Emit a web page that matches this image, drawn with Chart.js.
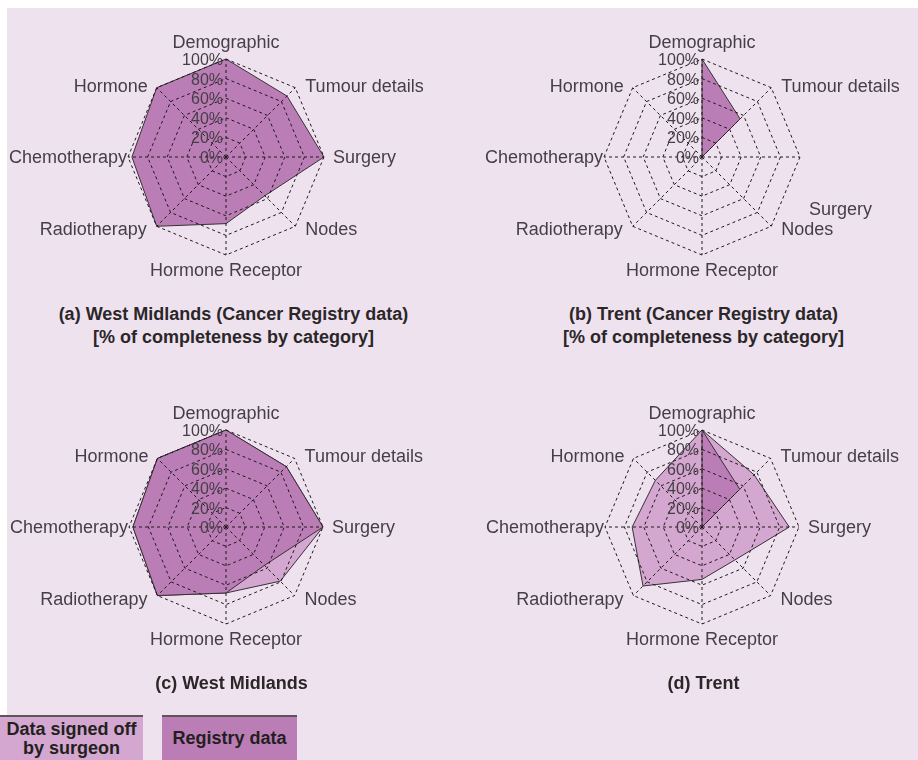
<!DOCTYPE html>
<html>
<head>
<meta charset="utf-8">
<script src="https://cdn.jsdelivr.net/npm/chart.js@4.4.1/dist/chart.umd.min.js"></script>
<style>
  body { margin: 0; background: #fff; }
  #page { position: relative; width: 918px; height: 760px; overflow: hidden; font-family: "Liberation Sans", Arial, sans-serif; }
  #panel { position: absolute; left: 7px; top: 8px; right: 0; bottom: 0; background: #eee2ef; }
  canvas { position: absolute; }
  .title { position: absolute; width: 459px; text-align: center; font-weight: bold; font-size: 18px; line-height: 23px; color: #2b2628; }
  .key { position: absolute; top: 715px; height: 43px; border-top: 2px solid #5e5459; border-bottom: 1px solid #a98aa6;
         display: flex; align-items: center; justify-content: center; text-align: center;
         font-weight: bold; font-size: 18px; line-height: 19px; color: #231f21; }
</style>
</head>
<body>
<div id="page">
  <div id="panel"></div>
  <canvas id="chartA" width="459" height="300" style="left:0;top:0"></canvas>
  <canvas id="chartB" width="459" height="300" style="left:459px;top:0"></canvas>
  <canvas id="chartC" width="459" height="330" style="left:0;top:370px"></canvas>
  <canvas id="chartD" width="459" height="330" style="left:459px;top:370px"></canvas>

  <div class="title" style="left:4px;top:303px">(a) West Midlands (Cancer Registry data)<br>[% of completeness by category]</div>
  <div class="title" style="left:474px;top:303px">(b) Trent (Cancer Registry data)<br>[% of completeness by category]</div>
  <div class="title" style="left:2px;top:672px">(c) West Midlands</div>
  <div class="title" style="left:474px;top:672px">(d) Trent</div>

  <div class="key" style="left:0;width:143px;background:#d4a7d0">Data signed off<br>by surgeon</div>
  <div class="key" style="left:162px;width:135px;background:#bb7db6">Registry data</div>
</div>

<script>
// categories clockwise from the top
const categories = ['Demographic', 'Tumour details', 'Surgery', 'Nodes', 'Hormone Receptor', 'Radiotherapy', 'Chemotherapy', 'Hormone'];
const tickValues = [0, 20, 40, 60, 80, 100];

// % completeness
const westMidlandsRegistry = [100, 88, 100, 56, 68, 100, 96, 100];
const westMidlandsSurgeon  = [100, 88, 100, 79, 68, 100, 96, 100];
const trentRegistry = [100, 55, 0, 0, 0, 0, 0, 0];
const trentSurgeon  = [100, 76, 90, 48, 54, 86, 72, 68];

const registryColor = '#bb7db6';
const surgeonColor = '#d4a7d0';
const textColor = '#453f45';

// where each spoke label sits relative to the end of its spoke
const labelStyle = [
    {dx: 0, dy: -11, align: 'center'},
    {dx: 10, dy: 4, align: 'left'},
    {dx: 9, dy: 6, align: 'left'},
    {dx: 10, dy: 9, align: 'left'},
    {dx: 0, dy: 21, align: 'center'},
    {dx: -10, dy: 9, align: 'right'},
    {dx: -1, dy: 6, align: 'right'},
    {dx: -9, dy: 4, align: 'right'}
];

const spokeText = {
    id: 'spokeText',
    afterDraw(chart, args, opts) {
        let r = chart.scales.r;
        let ctx = chart.ctx;
        ctx.save();
        ctx.fillStyle = textColor;
        ctx.textBaseline = 'alphabetic';

        // point labels
        ctx.font = '18px "Liberation Sans", Arial, sans-serif';
        categories.forEach(function(name, i){
            let p = r.getPointPosition(i, r.drawingArea);
            let st = labelStyle[i];
            let shift = (opts.shift && opts.shift[i]) || {dx: 0, dy: 0};
            ctx.textAlign = st.align;
            ctx.fillText(name, p.x + st.dx + shift.dx, p.y + st.dy + shift.dy);
        });

        // tick labels, right aligned against the vertical spoke
        ctx.font = '16px "Liberation Sans", Arial, sans-serif';
        ctx.textAlign = 'right';
        tickValues.forEach(function(v){
            let y = r.yCenter - r.getDistanceFromCenterForValue(v);
            ctx.fillText(v + '%', r.xCenter - 3, y + 6);
        });
        ctx.restore();
    }
};

function makeDataset(label, values, color){
    return {
        label: label,
        data: values,
        backgroundColor: color,
        borderColor: '#3a3036',
        borderWidth: 1,
        pointRadius: 0,
        pointHoverRadius: 0,
        fill: true,
        clip: false
    };
}

function makeChart(id, canvasLeft, canvasTop, cx, cy, radius, datasets, shift){
    let canvas = document.getElementById(id);
    let padding = {
        left: cx - radius - canvasLeft,
        right: canvas.width - (cx + radius - canvasLeft),
        top: cy - radius - canvasTop,
        bottom: canvas.height - (cy + radius - canvasTop)
    };
    return new Chart(canvas.getContext('2d'), {
        type: 'radar',
        data: { labels: categories, datasets: datasets },
        options: {
            responsive: false,
            animation: false,
            layout: { padding: padding },
            plugins: {
                legend: { display: false },
                tooltip: { enabled: false },
                spokeText: { shift: shift }
            },
            scales: {
                r: {
                    min: 0,
                    max: 100,
                    ticks: { stepSize: 20, display: false },
                    pointLabels: { display: false },
                    grid: { color: '#1e1a1c', lineWidth: 1, z: 1 },
                    border: { dash: [3, 3] },
                    angleLines: { color: '#1e1a1c', lineWidth: 1, borderDash: [3, 3] }
                }
            }
        },
        plugins: [spokeText]
    });
}

makeChart('chartA', 0, 0, 226, 157, 98, [
    makeDataset('Registry data', westMidlandsRegistry, registryColor)
]);
makeChart('chartB', 459, 0, 702, 157, 98, [
    makeDataset('Registry data', trentRegistry, registryColor)
], {2: {dx: 0, dy: 52}}); // Surgery label sits lower in the original
makeChart('chartC', 0, 370, 226, 527, 97, [
    makeDataset('Registry data', westMidlandsRegistry, registryColor),
    makeDataset('Data signed off by surgeon', westMidlandsSurgeon, surgeonColor)
]);
makeChart('chartD', 459, 370, 702, 527, 97, [
    makeDataset('Registry data', trentRegistry, registryColor),
    makeDataset('Data signed off by surgeon', trentSurgeon, surgeonColor)
]);
</script>
</body>
</html>
